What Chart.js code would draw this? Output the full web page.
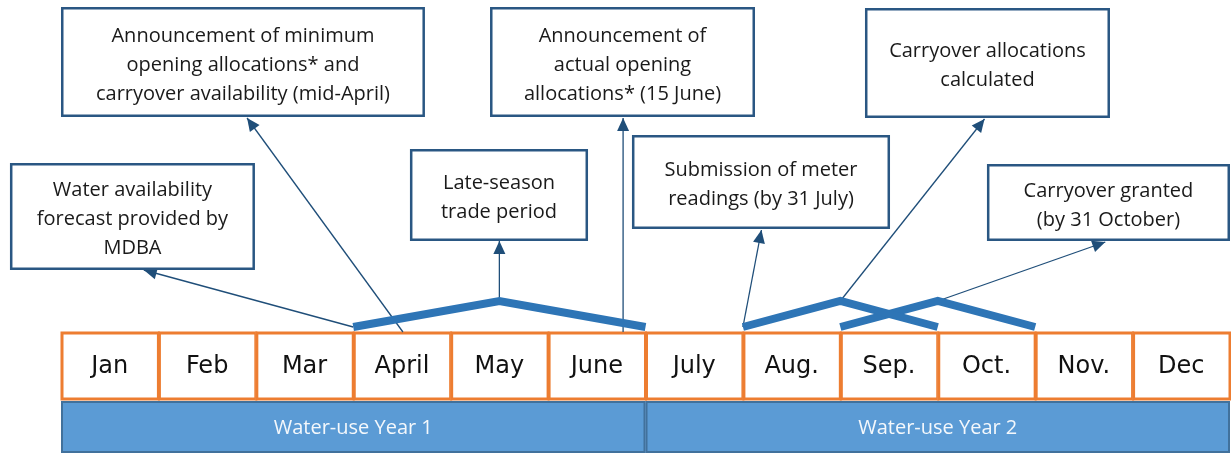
<!DOCTYPE html>
<html>
<head>
<meta charset="utf-8">
<script src="https://cdn.jsdelivr.net/npm/chart.js@4/dist/chart.umd.min.js"></script>
<style>
    html, body { margin: 0; padding: 0; background: #ffffff; }
    #wrap { width: 1231px; height: 453px; }
</style>
</head>
<body>
<div id="wrap"><canvas id="timelineChart" width="1231" height="453"></canvas></div>
<script>
// meses (eje x en unidades de mes: 0 = inicio de enero)
const months = ['Jan', 'Feb', 'Mar', 'April', 'May', 'June', 'July', 'Aug.', 'Sep.', 'Oct.', 'Nov.', 'Dec'];
const yearLabels = ['Water-use Year 1', 'Water-use Year 2'];
const yearStart = [0, 6];
const yearEnd = [6, 12];

// filas (eje y en unidades de altura)
const monthRow = [53, 121];
const yearRow = [0, 52];

// periodos de comercio (líneas gruesas)
const tradeStart = [3, 7, 8];
const tradePeak = [4.5, 8, 9];
const tradeEnd = [6, 9, 10];
const tradeLow = 126;
const tradeHigh = 152;

// cajas de eventos
const eventText = [
    ['Water availability', 'forecast provided by', 'MDBA'],
    ['Announcement of minimum', 'opening allocations* and', 'carryover availability (mid-April)'],
    ['Late-season', 'trade period'],
    ['Announcement of', 'actual opening', 'allocations* (15 June)'],
    ['Submission of meter', 'readings (by 31 July)'],
    ['Carryover allocations', 'calculated'],
    ['Carryover granted', '(by 31 October)']
];
const boxLeft = [-0.524, 0, 3.582, 4.404, 5.861, 8.253, 9.505];
const boxRight = [1.991, 3.736, 5.41, 7.124, 8.51, 10.768, 12.0];
const boxTop = [290, 446, 304, 446, 318, 445, 289];
const boxBottom = [183, 336, 212, 336, 224, 335, 212];

// flechas: desde el mes hasta la caja
const arrowFromX = [3.0, 3.51, 4.5, 5.77, 7.0, 8.0, 9.0];
const arrowFromY = [126, 121, 152, 121, 126, 152, 152];
const arrowToX = [0.85, 1.91, 4.5, 5.77, 7.19, 9.48, 10.72];
const arrowToY = [183, 335, 212, 335, 223, 334, 211];

const BOX_COLOR = '#2a5783';
const ARROW_COLOR = '#1f4e79';
const TRADE_COLOR = '#2e75b6';
const MONTH_BORDER = '#ed7d31';
const YEAR_FILL = '#5b9bd5';
const YEAR_BORDER = '#41719c';

const datasets = [];

tradeStart.forEach((s, i) => {
    datasets.push({
        label: 'trade' + i,
        data: [{ x: s, y: tradeLow }, { x: tradePeak[i], y: tradeHigh }, { x: tradeEnd[i], y: tradeLow }],
        showLine: true,
        borderColor: TRADE_COLOR,
        borderWidth: 8,
        borderCapStyle: 'butt',
        borderJoinStyle: 'miter',
        pointRadius: 0,
        tension: 0,
        clip: false
    });
});

arrowFromX.forEach((fx, i) => {
    datasets.push({
        label: 'arrow' + i,
        data: [{ x: fx, y: arrowFromY[i] }, { x: arrowToX[i], y: arrowToY[i] }],
        showLine: true,
        borderColor: ARROW_COLOR,
        borderWidth: 1.3,
        pointRadius: 0,
        tension: 0,
        clip: false
    });
});

// Dibuja filas de meses y años antes de las líneas
const timelinePlugin = {
    id: 'timeline',
    beforeDatasetsDraw(chart) {
        const { ctx, scales: { x, y } } = chart;
        ctx.save();
        // barras de año
        yearLabels.forEach((label, i) => {
            const x0 = x.getPixelForValue(yearStart[i]);
            const x1 = x.getPixelForValue(yearEnd[i]);
            const y0 = y.getPixelForValue(yearRow[1]);
            const y1 = y.getPixelForValue(yearRow[0]);
            ctx.fillStyle = YEAR_FILL;
            ctx.fillRect(x0, y0, x1 - x0, y1 - y0);
            ctx.strokeStyle = YEAR_BORDER;
            ctx.lineWidth = 2;
            ctx.strokeRect(x0 + 1, y0 + 1, x1 - x0 - 2, y1 - y0 - 2);
            ctx.fillStyle = '#f4f8fc';
            ctx.font = '20px "Open Sans", sans-serif';
            ctx.textAlign = 'center';
            ctx.textBaseline = 'middle';
            ctx.fillText(label, (x0 + x1) / 2, (y0 + y1) / 2 + 1);
        });
        // celdas de meses
        months.forEach((m, i) => {
            const x0 = x.getPixelForValue(i);
            const x1 = x.getPixelForValue(i + 1);
            const y0 = y.getPixelForValue(monthRow[1]);
            const y1 = y.getPixelForValue(monthRow[0]);
            ctx.fillStyle = '#ffffff';
            ctx.fillRect(x0, y0, x1 - x0, y1 - y0);
            ctx.strokeStyle = MONTH_BORDER;
            ctx.lineWidth = 3;
            ctx.strokeRect(x0 + 1, y0 + 1, x1 - x0 - 1, y1 - y0 - 2);
            ctx.fillStyle = '#111111';
            ctx.font = '24px "DejaVu Sans", sans-serif';
            ctx.textAlign = 'center';
            ctx.textBaseline = 'middle';
            ctx.fillText(m, (x0 + x1) / 2, (y0 + y1) / 2 + 1);
        });
        ctx.restore();
    },
    afterDatasetsDraw(chart) {
        const { ctx, scales: { x, y } } = chart;
        ctx.save();
        // puntas de flecha
        arrowFromX.forEach((fx, i) => {
            const px0 = x.getPixelForValue(fx);
            const py0 = y.getPixelForValue(arrowFromY[i]);
            const px1 = x.getPixelForValue(arrowToX[i]);
            const py1 = y.getPixelForValue(arrowToY[i]);
            const ang = Math.atan2(py1 - py0, px1 - px0);
            const len = 13, half = 6;
            ctx.fillStyle = ARROW_COLOR;
            ctx.beginPath();
            ctx.moveTo(px1, py1);
            ctx.lineTo(px1 - len * Math.cos(ang) + half * Math.sin(ang), py1 - len * Math.sin(ang) - half * Math.cos(ang));
            ctx.lineTo(px1 - len * Math.cos(ang) - half * Math.sin(ang), py1 - len * Math.sin(ang) + half * Math.cos(ang));
            ctx.closePath();
            ctx.fill();
        });
        // cajas de texto
        eventText.forEach((lines, i) => {
            const x0 = x.getPixelForValue(boxLeft[i]);
            const x1 = x.getPixelForValue(boxRight[i]);
            const y0 = y.getPixelForValue(boxTop[i]);
            const y1 = y.getPixelForValue(boxBottom[i]);
            ctx.fillStyle = '#ffffff';
            ctx.fillRect(x0, y0, x1 - x0, y1 - y0);
            ctx.strokeStyle = BOX_COLOR;
            ctx.lineWidth = 2.5;
            ctx.strokeRect(x0 + 1.25, y0 + 1.25, x1 - x0 - 2.5, y1 - y0 - 2.5);
            ctx.fillStyle = '#1a1a1a';
            ctx.font = '20px "Open Sans", sans-serif';
            ctx.textAlign = 'center';
            ctx.textBaseline = 'middle';
            const lh = 29;
            const cy = (y0 + y1) / 2 - (lines.length - 1) * lh / 2 + 3;
            lines.forEach((t, k) => ctx.fillText(t, (x0 + x1) / 2, cy + k * lh));
        });
        ctx.restore();
    }
};

const ctx = document.getElementById('timelineChart').getContext('2d');
new Chart(ctx, {
    type: 'scatter',
    data: { datasets: datasets },
    options: {
        responsive: false,
        animation: false,
        layout: { padding: { left: 61, right: 1, top: 0, bottom: 0 } },
        scales: {
            x: { type: 'linear', min: 0, max: 12, display: false },
            y: { type: 'linear', min: 0, max: 453, display: false }
        },
        plugins: {
            legend: { display: false },
            tooltip: { enabled: false }
        }
    },
    plugins: [timelinePlugin]
});
</script>
</body>
</html>
